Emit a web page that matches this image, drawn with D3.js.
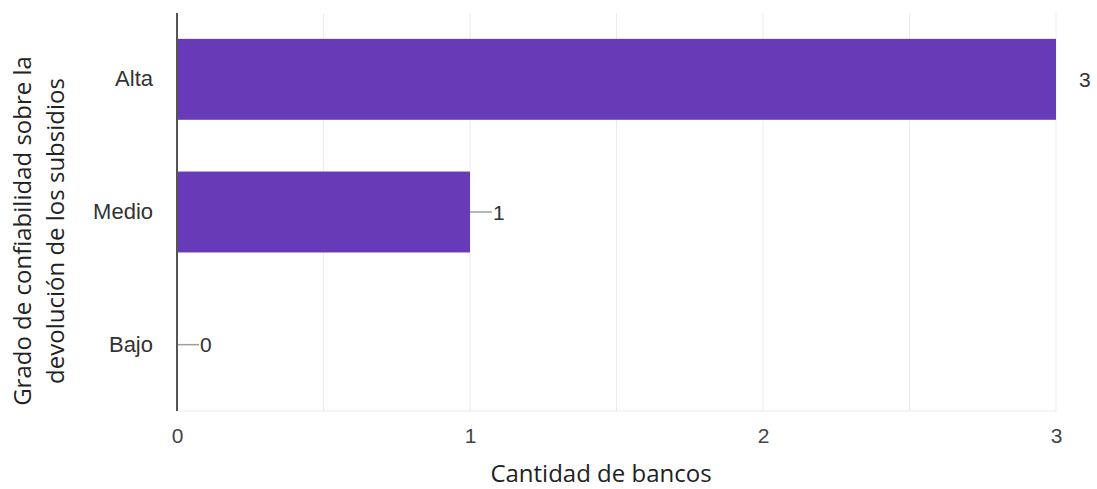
<!DOCTYPE html>
<html>
<head>
<meta charset="utf-8">
<script src="https://cdn.jsdelivr.net/npm/d3@7"></script>
<style>
  html, body { margin: 0; padding: 0; background: #fff; }
  svg { display: block; }
</style>
</head>
<body>
<svg id="chart" width="1097" height="489"></svg>
<script>
// Confidence levels and number of banks per level
const categories = ["Alta", "Medio", "Bajo"];
const values = [3, 1, 0];
const xTicks = [0, 1, 2, 3];
const gridTicks = [0.5, 1, 1.5, 2, 2.5, 3];
const xTitle = "Cantidad de bancos";
const yTitleLines = ["Grado de confiabilidad sobre la", "devolución de los subsidios"];

const svg = d3.select("#chart");
const margin = { left: 177, right: 41, top: 13, bottom: 78 };
const W = 1097, H = 489;
const plotW = W - margin.left - margin.right;
const plotH = H - margin.top - margin.bottom;

const x = d3.scaleLinear().domain([0, 3]).range([0, plotW]);
const y = d3.scaleBand().domain(categories).range([0, plotH]).paddingInner(0.39).paddingOuter(0.195);

const g = svg.append("g").attr("transform", `translate(${margin.left},${margin.top})`);

svg.append("defs").append("clipPath").attr("id", "plotClip")
  .append("rect").attr("x", 0).attr("y", 0).attr("width", plotW).attr("height", plotH);

// vertical gridlines
g.selectAll("line.grid").data(gridTicks).join("line")
  .attr("class", "grid")
  .attr("x1", d => x(d)).attr("x2", d => x(d))
  .attr("y1", 0).attr("y2", plotH)
  .attr("stroke", "#ebebeb").attr("stroke-width", 1);

// bottom gridline
g.append("line").attr("x1", 0).attr("x2", plotW).attr("y1", plotH).attr("y2", plotH)
  .attr("stroke", "#ebebeb").attr("stroke-width", 1);

const data = categories.map((c, i) => ({ c, v: values[i] }));

// bars
g.selectAll("rect.bar").data(data).join("rect")
  .attr("class", "bar")
  .attr("x", 0)
  .attr("y", d => y(d.c))
  .attr("width", d => x(d.v))
  .attr("height", y.bandwidth())
  .attr("fill", "#673ab7");

// leader lines to value labels (clipped to the plot area)
g.append("g").attr("clip-path", "url(#plotClip)")
  .selectAll("line.lead").data(data).join("line")
  .attr("x1", d => x(d.v)).attr("x2", d => x(d.v) + 22)
  .attr("y1", d => y(d.c) + y.bandwidth() / 2).attr("y2", d => y(d.c) + y.bandwidth() / 2)
  .attr("stroke", "#9e9e9e").attr("stroke-width", 1.5);

// value labels
g.selectAll("text.val").data(data).join("text")
  .attr("x", d => x(d.v) + 23)
  .attr("y", d => y(d.c) + y.bandwidth() / 2)
  .attr("dy", "0.36em")
  .attr("font-family", "Liberation Sans, Arial, sans-serif")
  .attr("font-size", 21)
  .attr("fill", "#333")
  .text(d => d.v);

// left axis line
g.append("line").attr("x1", 0).attr("x2", 0).attr("y1", 0).attr("y2", plotH)
  .attr("stroke", "#555").attr("stroke-width", 2);

// category labels
const yAxis = g.append("g").call(d3.axisLeft(y).tickSize(0).tickPadding(24));
yAxis.select(".domain").remove();
yAxis.selectAll("text")
  .attr("font-family", "Liberation Sans, Arial, sans-serif")
  .attr("font-size", 22)
  .attr("fill", "#333");

// x tick labels
const xAxis = g.append("g").attr("transform", `translate(0,${plotH})`)
  .call(d3.axisBottom(x).tickValues(xTicks).tickFormat(d3.format("d")).tickSize(0).tickPadding(17));
xAxis.select(".domain").remove();
xAxis.selectAll("text")
  .attr("font-family", "Liberation Sans, Arial, sans-serif")
  .attr("font-size", 21)
  .attr("fill", "#444");

// axis titles
svg.append("text")
  .attr("x", 601).attr("y", 482)
  .attr("text-anchor", "middle")
  .attr("font-family", "Open Sans, sans-serif")
  .attr("font-size", 24)
  .attr("fill", "#222")
  .text(xTitle);

const yt = svg.append("text")
  .attr("transform", "translate(0,231) rotate(-90)")
  .attr("text-anchor", "middle")
  .attr("font-family", "Open Sans, sans-serif")
  .attr("font-size", 24)
  .attr("fill", "#222");
yTitleLines.forEach((t, i) => {
  yt.append("tspan").attr("x", 0).attr("y", 31 + i * 33).text(t);
});
</script>
</body>
</html>
